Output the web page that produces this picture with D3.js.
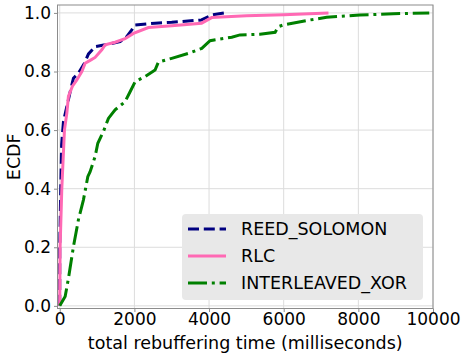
<!DOCTYPE html>
<html>
<head>
<meta charset="utf-8">
<script src="https://cdn.jsdelivr.net/npm/d3@7"></script>
<style>
	body { margin: 0; background: #fff; }
	text { font-family: "DejaVu Sans", sans-serif; fill: #000; }
</style>
</head>
<body>
<svg id="chart"></svg>
<script>
// series values (time in ms, ECDF)
const rsTime = [0, 0, 20, 50, 100, 190, 280, 367, 500, 662, 770, 948, 1215, 1617, 1795, 1930, 2020, 2555, 3000, 3800, 4070, 4430];
const rsEcdf = [0, 0.2, 0.35, 0.55, 0.63, 0.68, 0.731, 0.777, 0.794, 0.828, 0.86, 0.885, 0.891, 0.902, 0.919, 0.942, 0.959, 0.965, 0.968, 0.976, 0.993, 1.0];

const rlcTime = [0, 10, 55, 126, 190, 233, 340, 458, 592, 680, 814, 948, 1127, 1215, 1483, 1750, 1975, 2375, 3000, 3800, 4070, 5000, 6000, 7200];
const rlcEcdf = [0, 0.2, 0.4, 0.6, 0.658, 0.715, 0.75, 0.771, 0.8, 0.828, 0.838, 0.848, 0.874, 0.891, 0.9, 0.912, 0.93, 0.95, 0.956, 0.965, 0.984, 0.99, 0.994, 1.0];

const xorTime = [0, 145, 235, 367, 500, 635, 752, 814, 948, 1020, 1170, 1304, 1483, 1750, 1885, 2020, 2286, 2554, 2643, 3000, 3446, 3805, 4027, 4608, 4830, 5365, 5770, 5855, 5990, 6705, 7150, 8040, 8935, 9900];
const xorEcdf = [0, 0.032, 0.095, 0.202, 0.294, 0.362, 0.441, 0.458, 0.51, 0.555, 0.595, 0.64, 0.669, 0.697, 0.731, 0.765, 0.783, 0.805, 0.832, 0.845, 0.862, 0.879, 0.905, 0.917, 0.925, 0.927, 0.934, 0.953, 0.959, 0.976, 0.985, 0.993, 0.997, 1.0];

const seriesNames = ['REED_SOLOMON', 'RLC', 'INTERLEAVED_XOR'];
const xTicks = [0, 2000, 4000, 6000, 8000, 10000];
const yTicks = [0, 0.2, 0.4, 0.6, 0.8, 1.0];

const series = [
	{ name: seriesNames[0], t: rsTime, e: rsEcdf, color: '#000080', dash: '11,4.8' },
	{ name: seriesNames[1], t: rlcTime, e: rlcEcdf, color: '#ff69b4', dash: null },
	{ name: seriesNames[2], t: xorTime, e: xorEcdf, color: '#008000', dash: '19,4.8,3,4.8' }
];

const width = 461;
const height = 355;
const fs = 17.5;

const svg = d3.select('#chart')
	.attr('width', width)
	.attr('height', height);

const xScale = d3.scaleLinear().domain([-60, 10000]).range([57.5, 433]);
const yScale = d3.scaleLinear().domain([-0.009, 1.027]).range([308.5, 5]);

// grid
svg.append('g').selectAll('line').data(xTicks).join('line')
	.attr('x1', d => xScale(d)).attr('x2', d => xScale(d))
	.attr('y1', yScale.range()[0]).attr('y2', yScale.range()[1])
	.attr('stroke', '#dcdcdc').attr('stroke-width', 1);
svg.append('g').selectAll('line').data(yTicks).join('line')
	.attr('y1', d => yScale(d)).attr('y2', d => yScale(d))
	.attr('x1', xScale.range()[0]).attr('x2', xScale.range()[1])
	.attr('stroke', '#dcdcdc').attr('stroke-width', 1);

// lines
const line = d3.line()
	.x(d => xScale(d[0]))
	.y(d => yScale(d[1]));

series.forEach(s => {
	svg.append('path')
		.datum(d3.zip(s.t, s.e))
		.attr('d', line)
		.attr('fill', 'none')
		.attr('stroke', s.color)
		.attr('stroke-width', 3)
		.attr('stroke-dasharray', s.dash);
});

// frame
svg.append('rect')
	.attr('x', xScale.range()[0]).attr('y', yScale.range()[1])
	.attr('width', xScale.range()[1] - xScale.range()[0])
	.attr('height', yScale.range()[0] - yScale.range()[1])
	.attr('fill', 'none').attr('stroke', '#8c8c8c').attr('stroke-width', 1);

// axes
const xAxis = d3.axisBottom(xScale).tickValues(xTicks).tickFormat(d3.format('d')).tickSize(3.5).tickPadding(0.5);
const yAxis = d3.axisLeft(yScale).tickValues(yTicks).tickFormat(d3.format('.1f')).tickSize(3.5).tickPadding(3);

const gx = svg.append('g').attr('transform', `translate(0, ${yScale.range()[0]})`).call(xAxis);
const gy = svg.append('g').attr('transform', `translate(${xScale.range()[0]}, 0)`).call(yAxis);
[gx, gy].forEach(g => {
	g.select('.domain').remove();
	g.selectAll('line').attr('stroke', '#8c8c8c');
	g.selectAll('text').attr('font-size', 17).attr('font-family', '"DejaVu Sans"').attr('fill', '#000');
});

svg.append('text')
	.attr('x', (xScale.range()[0] + xScale.range()[1]) / 2)
	.attr('y', 349)
	.attr('text-anchor', 'middle')
	.attr('font-size', fs)
	.text('total rebuffering time (milliseconds)');

svg.append('text')
	.attr('transform', `translate(20, ${(yScale.range()[0] + yScale.range()[1]) / 2}) rotate(-90)`)
	.attr('text-anchor', 'middle')
	.attr('font-size', fs)
	.text('ECDF');

// legend
const legend = svg.append('g').attr('transform', 'translate(182, 214)');
legend.append('rect')
	.attr('width', 241).attr('height', 86)
	.attr('rx', 4)
	.attr('fill', '#e8e8e8');

series.forEach((s, i) => {
	const y = 15 + i * 27;
	legend.append('line')
		.attr('x1', 6).attr('x2', 44)
		.attr('y1', y).attr('y2', y)
		.attr('stroke', s.color)
		.attr('stroke-width', 3)
		.attr('stroke-dasharray', s.dash);
	legend.append('text')
		.attr('x', 59).attr('y', y)
		.attr('dy', '0.35em')
		.attr('font-size', fs)
		.text(s.name);
});
</script>
</body>
</html>
